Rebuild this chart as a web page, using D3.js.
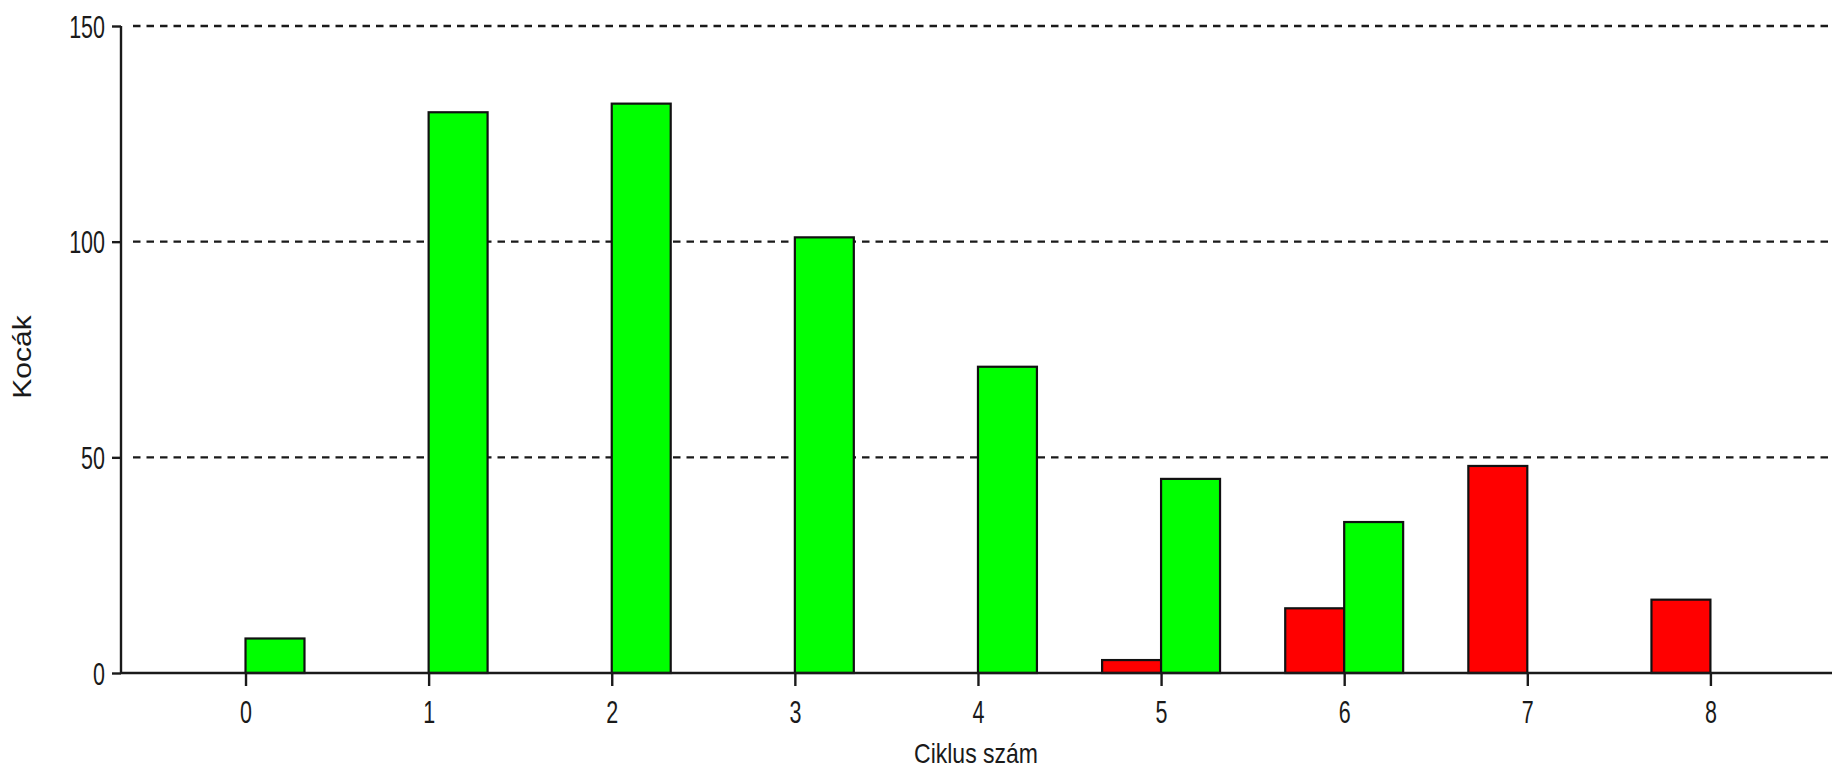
<!DOCTYPE html>
<html>
<head>
<meta charset="utf-8">
<script src="https://cdn.jsdelivr.net/npm/d3@7"></script>
<style>
  html, body { margin: 0; padding: 0; background: #fff; }
  svg { display: block; }
  text { font-family: "Liberation Sans", Arial, sans-serif; fill: #1a1a1a; }
</style>
</head>
<body>
<svg id="chart" width="1832" height="771"></svg>
<script>
const categories = [0, 1, 2, 3, 4, 5, 6, 7, 8];
const redValues   = [0, 0, 0, 0, 0, 3, 15, 48, 17];
const greenValues = [8, 130, 132, 101, 71, 45, 35, 0, 0];
const yTicks = [0, 50, 100, 150];
const xTitle = "Ciklus szám";
const yTitle = "Kocák";

(function () {
const plotLeft = 121, plotRight = 1832, plotTop = 26, zeroY = 673;
const svg = d3.select("#chart");

const x = d3.scaleLinear().domain([-0.68, 8.664]).range([plotLeft, plotRight]);
const y = d3.scaleLinear().domain([0, 150]).range([zeroY, plotTop]);
const barW = x(0.322) - x(0);

// gridlines
svg.append("g").selectAll("line").data(yTicks.filter(d => d > 0)).join("line")
  .attr("x1", plotLeft + 12).attr("x2", plotRight)
  .attr("y1", d => y(d)).attr("y2", d => y(d))
  .attr("stroke", "#1a1a1a").attr("stroke-width", 2.4)
  .attr("stroke-dasharray", "7.5,6");

// bars
const data = categories.map((c, i) => ({c, red: redValues[i], green: greenValues[i]}));
const bars = svg.append("g");
bars.selectAll("rect.red").data(data.filter(d => d.red > 0)).join("rect")
  .attr("class", "red")
  .attr("x", d => x(d.c) - barW).attr("width", barW)
  .attr("y", d => y(d.red)).attr("height", d => y(0) - y(d.red))
  .attr("fill", "#ff0000").attr("stroke", "#111").attr("stroke-width", 2.2);
bars.selectAll("rect.green").data(data.filter(d => d.green > 0)).join("rect")
  .attr("class", "green")
  .attr("x", d => x(d.c)).attr("width", barW)
  .attr("y", d => y(d.green)).attr("height", d => y(0) - y(d.green))
  .attr("fill", "#00ff00").attr("stroke", "#111").attr("stroke-width", 2.2);

// y axis
const yAxis = d3.axisLeft(y).tickValues(yTicks).tickSize(9).tickFormat("");
const yg = svg.append("g").attr("transform", `translate(${plotLeft},0)`).call(yAxis);
yg.select(".domain").remove();
yg.selectAll(".tick line").attr("stroke", "#1a1a1a").attr("stroke-width", 2.4);
svg.append("line").attr("x1", plotLeft).attr("x2", plotLeft).attr("y1", plotTop).attr("y2", zeroY)
  .attr("stroke", "#1a1a1a").attr("stroke-width", 2.4);
yg.selectAll(".tick").append("text")
  .attr("transform", "translate(-16,0) scale(1,1.45)")
  .attr("text-anchor", "end").attr("dy", "0.36em")
  .attr("font-size", 21.5)
  .text(d => d);

// x axis
const xAxis = d3.axisBottom(x).tickValues(categories).tickSize(13).tickFormat("");
const xg = svg.append("g").attr("transform", `translate(0,${zeroY})`).call(xAxis);
xg.select(".domain").remove();
xg.selectAll(".tick line").attr("stroke", "#1a1a1a").attr("stroke-width", 2.4);
svg.append("line").attr("x1", plotLeft).attr("x2", plotRight).attr("y1", zeroY).attr("y2", zeroY)
  .attr("stroke", "#1a1a1a").attr("stroke-width", 2.6);
xg.selectAll(".tick").append("text")
  .attr("transform", "translate(0,39) scale(1,1.45)")
  .attr("text-anchor", "middle").attr("dy", "0.36em")
  .attr("font-size", 21.5)
  .text(d => d);

// titles
svg.append("text")
  .attr("transform", "translate(976,753) scale(1,1.2)")
  .attr("text-anchor", "middle").attr("dy", "0.36em")
  .attr("font-size", 23)
  .text(xTitle);
svg.append("text")
  .attr("transform", "translate(22,357) rotate(-90) scale(1.2,1)")
  .attr("text-anchor", "middle").attr("dy", "0.36em")
  .attr("font-size", 25)
  .text(yTitle);
})();
</script>
</body>
</html>
